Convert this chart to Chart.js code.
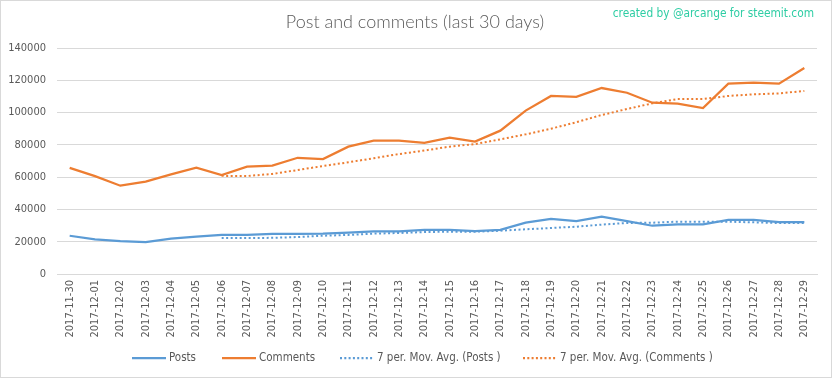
<!DOCTYPE html>
<html><head><meta charset="utf-8">
<script src="https://cdn.jsdelivr.net/npm/chart.js@4/dist/chart.umd.min.js"></script>
<style>html,body{margin:0;padding:0;background:#fff;}canvas{display:block;}</style>
</head><body>
<canvas id="c" width="832" height="378"></canvas>
<script>
const categories = ["2017-11-30","2017-12-01","2017-12-02","2017-12-03","2017-12-04","2017-12-05","2017-12-06","2017-12-07","2017-12-08","2017-12-09","2017-12-10","2017-12-11","2017-12-12","2017-12-13","2017-12-14","2017-12-15","2017-12-16","2017-12-17","2017-12-18","2017-12-19","2017-12-20","2017-12-21","2017-12-22","2017-12-23","2017-12-24","2017-12-25","2017-12-26","2017-12-27","2017-12-28","2017-12-29"];
const posts = [23700,21500,20400,19800,21900,23100,24200,24200,24800,24800,25000,25600,26400,26400,27300,27300,26600,27300,31800,34100,32800,35500,32800,29900,30700,30700,33500,33500,32200,32200];
const comments = [65700,60600,54700,57200,61700,65900,61300,66500,67100,72000,71200,78900,82600,82600,81300,84500,82000,88800,101200,110300,109700,115200,112300,106100,105500,102800,117900,118500,117900,127600];
const postsAvg = [null,null,null,null,null,null,22300,22300,22400,22900,23700,24200,25000,25400,26000,26200,26200,26800,27700,28500,29300,30600,31600,31800,32400,32400,32400,32000,31600,31600];
const commentsAvg = [null,null,null,null,null,null,60800,60700,62000,64400,66900,69200,71700,74300,76500,78900,80500,83400,86500,90000,94000,98500,102200,105700,108400,108400,110300,111300,111900,113400];
const yTicks = [0,20000,40000,60000,80000,100000,120000,140000];
const seriesNames = ["Posts","Comments","7 per. Mov. Avg. (Posts )","7 per. Mov. Avg. (Comments )"];

const BLUE = "#5B9BD5", ORANGE = "#ED7D31";
const FONT = "'Liberation Sans Narrow','DejaVu Sans Condensed','Liberation Sans',sans-serif";

const decor = {
  id: 'decor',
  beforeDraw(chart) {
    const ctx = chart.ctx;
    ctx.save();
    ctx.fillStyle = '#fff';
    ctx.fillRect(0, 0, chart.width, chart.height);
    ctx.strokeStyle = '#D9D9D9';
    ctx.lineWidth = 1;
    ctx.strokeRect(0.5, 0.5, chart.width - 1, chart.height - 1);
    ctx.restore();
  },
  afterDraw(chart) {
    const ctx = chart.ctx;
    ctx.save();
    ctx.textBaseline = 'middle';
    ctx.textAlign = 'center';
    ctx.fillStyle = '#595959';
    ctx.font = "300 18px Lato, 'Open Sans', sans-serif";
    ctx.fillText('Post and comments (last 30 days)', 415, 22);
    ctx.textAlign = 'right';
    ctx.fillStyle = '#2ECDA4';
    ctx.font = "11.8px " + FONT;
    ctx.fillText('created by @arcange for steemit.com', 814, 14);
    // legend
    const items = [
      {x: 132, color: BLUE, dash: []},
      {x: 222, color: ORANGE, dash: []},
      {x: 340, color: BLUE, dash: [2, 2.3]},
      {x: 523, color: ORANGE, dash: [2, 2.3]}
    ];
    const y = 358;
    ctx.textAlign = 'left';
    ctx.font = "11.5px " + FONT;
    items.forEach((it, i) => {
      ctx.beginPath();
      ctx.setLineDash(it.dash);
      ctx.strokeStyle = it.color;
      ctx.lineWidth = 2.25;
      ctx.moveTo(it.x, y);
      ctx.lineTo(it.x + 34, y);
      ctx.stroke();
      ctx.setLineDash([]);
      ctx.fillStyle = '#595959';
      ctx.fillText(seriesNames[i], it.x + 37, y);
    });
    ctx.restore();
  }
};

new Chart(document.getElementById('c'), {
  type: 'line',
  data: {
    labels: categories,
    datasets: [
      {label: seriesNames[0], data: posts, borderColor: BLUE, borderWidth: 2.25, pointRadius: 0, tension: 0},
      {label: seriesNames[1], data: comments, borderColor: ORANGE, borderWidth: 2.25, pointRadius: 0, tension: 0},
      {label: seriesNames[2], data: postsAvg, borderColor: BLUE, borderWidth: 2, borderDash: [2, 2.5], pointRadius: 0, tension: 0},
      {label: seriesNames[3], data: commentsAvg, borderColor: ORANGE, borderWidth: 2, borderDash: [2, 2.5], pointRadius: 0, tension: 0}
    ]
  },
  options: {
    responsive: false,
    animation: false,
    layout: {padding: {left: 8, right: 15, top: 48, bottom: 0}},
    plugins: {legend: {display: false}, title: {display: false}, tooltip: {enabled: false}},
    scales: {
      x: {
        offset: true,
        grid: {display: false, drawTicks: false},
        border: {display: true, color: '#D9D9D9', width: 1},
        ticks: {autoSkip: false, minRotation: 90, maxRotation: 90, padding: 6, color: '#595959', font: {family: FONT, size: 11}},
        afterFit(s) { s.height = 104; }
      },
      y: {
        min: 0, max: 140000,
        afterBuildTicks(s) { s.ticks = yTicks.map(v => ({value: v})); },
        grid: {color: '#D9D9D9', drawTicks: false},
        border: {display: false},
        ticks: {padding: 11, color: '#595959', font: {family: FONT, size: 11}, callback: v => String(v)},
        afterFit(s) { s.width = 49; }
      }
    }
  },
  plugins: [decor]
});
</script>
</body></html>
